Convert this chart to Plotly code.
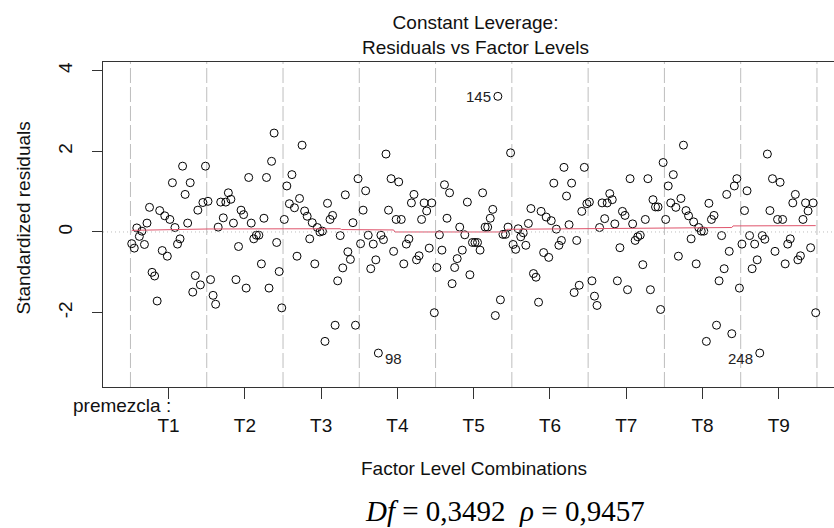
import plotly.graph_objects as go

# ---------------- data ----------------
factor_name = "premezcla"
levels = ["T1", "T2", "T3", "T4", "T5", "T6", "T7", "T8", "T9"]

r_T1 = [-0.29, -0.40, 0.10, -0.11, 0.02, -0.31, 0.22, 0.61, -1.00, -1.09,
        -1.71, 0.53, -0.46, 0.40, -0.60, 0.31, 1.22, 0.11, -0.30, -0.17,
        1.63, 0.93, 0.22, 1.22, -1.49, -1.08, 0.54, -1.31, 0.73, 1.63]
r_T2 = [0.76, -1.18, -1.57, -1.79, 0.12, 0.74, 0.35, 0.74, 0.97, 0.81,
        0.22, -1.18, -0.36, 0.54, 0.43, -1.39, 1.35, 0.22, -0.17, -0.08,
        -0.08, -0.79, 0.34, 1.35, -1.39, 1.75, 2.45, -0.26, -0.98, -1.88]
r_T3 = [0.31, 1.14, 0.70, 1.42, 0.60, -0.60, 0.83, 2.15, 0.52, 0.39,
        -0.17, 0.23, -0.79, 0.11, 0.00, 0.02, -2.71, 0.71, 0.31, 0.41,
        -2.31, -1.21, -0.09, -0.89, 0.92, -0.49, -0.68, 0.23, -2.31, 1.32]
r_T4 = [-0.29, 0.54, 1.02, -0.08, -0.91, -0.30, -0.69, -3.00, -0.08, -0.19,
        1.93, 0.54, 1.32, -0.48, 0.31, 1.24, 0.31, -0.79, -0.30, -0.17,
        0.72, 0.93, -0.69, -0.59, 0.31, 0.72, 0.52, -0.40, 0.72, -2.00]
r_T5 = [-0.88, -0.07, -0.45, 1.17, 0.34, 0.97, -1.28, -0.88, -0.66, 0.12,
        -0.45, -0.07, 0.74, -1.06, -0.26, -0.26, -0.26, -0.45, 0.97, 0.12,
        0.12, 0.34, 0.56, -2.07, 3.36, -1.68, -0.06, -0.06, 0.12, 1.96]
r_T6 = [-0.31, -0.43, 0.08, -0.12, -0.02, -0.33, 0.21, 0.58, -1.03, -1.12,
        -1.74, 0.51, -0.51, 0.37, -0.63, 0.28, 1.21, 0.07, -0.33, -0.21,
        1.60, 0.89, 0.18, 1.21, -1.50, -0.21, -1.32, 0.51, 1.60, 0.70]
r_T7 = [0.74, -1.21, -1.59, -1.82, 0.11, 0.72, 0.33, 0.72, 0.95, 0.80,
        0.20, -1.21, -0.39, 0.51, 0.41, -1.43, 1.32, 0.20, -0.21, -0.12,
        -0.08, -0.81, 0.31, 1.32, -1.43, 0.80, 0.62, 0.62, -1.92, 1.72]
r_T8 = [0.31, 1.14, 0.72, 1.42, 0.61, -0.60, 0.83, 2.15, 0.53, 0.40,
        -0.17, 0.25, -0.79, 0.11, 0.02, 0.02, -2.71, 0.71, 0.31, 0.41,
        -2.31, -1.21, -0.09, -0.91, 0.93, -0.48, -2.52, 1.14, 1.32, -1.39]
r_T9 = [-0.30, 0.53, 1.02, -0.09, -0.91, -0.30, -0.69, -3.00, -0.09, -0.18,
        1.93, 0.53, 1.32, -0.48, 0.31, 1.23, 0.31, -0.79, -0.30, -0.17,
        0.72, 0.93, -0.69, -0.59, 0.31, 0.72, 0.52, -0.39, 0.72, -2.00]

# smoother (red line): factor-combination index / value
smooth_idx = [0, 30, 60, 82, 82.5, 103, 103.5, 147, 147.5, 180, 209, 236, 236.5, 269]
smooth_val = [0.04, 0.074, 0.078, 0.08, 0.06, 0.05, 0.0, 0.0, 0.066, 0.08, 0.11, 0.11, 0.15, 0.157]

y_ticks = [-2, 0, 2, 4]
y_tick_text = ["-2", "0", "2", "4"]

title_text = "Constant Leverage:<br>Residuals vs Factor Levels"
x_title = "Factor Level Combinations"
y_title = "Standardized residuals"
stats_text = "<i>Df</i>\u00a0=\u00a00,3492\u00a0\u00a0<i>\u03c1</i>\u00a0=\u00a00,9457"

# ---------------- build ----------------
groups = [r_T1, r_T2, r_T3, r_T4, r_T5, r_T6, r_T7, r_T8, r_T9]
n_per = len(r_T1)
n_lev = len(levels)
N = n_per * n_lev

xs, ys = [], []
for g, vals in enumerate(groups):
    for j, v in enumerate(vals):
        xs.append(g * n_per + j)
        ys.append(v)

tick_pos = [n_per * (g + 0.5) - 0.5 for g in range(n_lev)]
sep_pos = [n_per * k - 0.5 for k in range(n_lev + 1)]

FONT = "Liberation Sans, Arial, sans-serif"
TXT = "#111111"

fig = go.Figure()

fig.add_trace(go.Scatter(
    x=xs, y=ys, mode="markers",
    marker=dict(symbol="circle-open", size=8, color="#000000",
                line=dict(width=1, color="#000000")),
    hoverinfo="skip", showlegend=False))

fig.add_trace(go.Scatter(
    x=smooth_idx, y=smooth_val, mode="lines",
    line=dict(color="#DF536B", width=1),
    hoverinfo="skip", showlegend=False))

shapes = []
for p in sep_pos:
    shapes.append(dict(type="line", xref="x", yref="paper", x0=p, x1=p, y0=0, y1=1,
                       line=dict(color="#BEBEBE", width=1, dash="15px,4px"), layer="below"))
shapes.append(dict(type="line", xref="paper", yref="y", x0=0, x1=1, y0=0, y1=0,
                   line=dict(color="#BEBEBE", width=1, dash="1px,3px"), layer="above"))

annotations = []
# identify the three largest |residuals|
order = sorted(range(N), key=lambda i: -abs(ys[i]))[:3]
mid_x = (0 + N - 1) / 2
for i in order:
    right_side = xs[i] > mid_x
    annotations.append(dict(
        x=xs[i], y=ys[i], xref="x", yref="y", text=str(i + 1), showarrow=False,
        xanchor="right" if right_side else "left",
        xshift=-5 if right_side else 5,
        yshift=-5 if ys[i] < 0 else 0,
        font=dict(family=FONT, size=15, color="#222222")))

annotations += [
    dict(text=title_text, xref="paper", yref="paper", x=(475 - 103) / 731, y=(387 - 35) / 325,
         showarrow=False, xanchor="center", yanchor="middle",
         font=dict(family=FONT, size=19, color=TXT)),
    dict(text=x_title, xref="paper", yref="paper", x=(474 - 103) / 731, y=(387 - 468) / 325,
         showarrow=False, xanchor="center", yanchor="middle",
         font=dict(family=FONT, size=19, color=TXT)),
    dict(text=y_title, xref="paper", yref="paper", x=(22.5 - 103) / 731, y=(387 - 218) / 325,
         showarrow=False, xanchor="center", yanchor="middle", textangle=-90,
         font=dict(family=FONT, size=19, color=TXT)),
    dict(text=factor_name + " :", xref="paper", yref="paper", x=(71 - 103) / 731,
         y=(387 - 405.5) / 325, showarrow=False, xanchor="left", yanchor="middle",
         font=dict(family=FONT, size=19, color=TXT)),
    dict(text=stats_text, xref="paper", yref="paper", x=(505 - 103) / 731,
         y=(387 - 511) / 325, showarrow=False, xanchor="center", yanchor="middle",
         font=dict(family="Liberation Serif, Times New Roman, serif", size=29, color="#000000")),
]

fig.update_layout(
    width=834, height=528,
    margin=dict(l=103, r=0, t=62, b=141),
    paper_bgcolor="white", plot_bgcolor="white",
    shapes=shapes, annotations=annotations,
    showlegend=False,
    xaxis=dict(range=[-11.3, 276.2], tickmode="array", tickvals=tick_pos, ticktext=levels,
               ticks="outside", ticklen=11, tickwidth=1, tickcolor="#333333",
               showline=True, linecolor="#333333", linewidth=1, mirror=True,
               showgrid=False, zeroline=False, ticklabelstandoff=10,
               tickfont=dict(family=FONT, size=19, color=TXT)),
    yaxis=dict(range=[-3.84, 4.21], tickmode="array", tickvals=y_ticks, ticktext=y_tick_text,
               ticks="outside", ticklen=10, tickwidth=1, tickcolor="#333333",
               showline=True, linecolor="#333333", linewidth=1, mirror=False,
               showgrid=False, zeroline=False, tickangle=-90, ticklabelstandoff=12,
               tickfont=dict(family=FONT, size=19, color=TXT)),
)

fig.write_html("out.html")
